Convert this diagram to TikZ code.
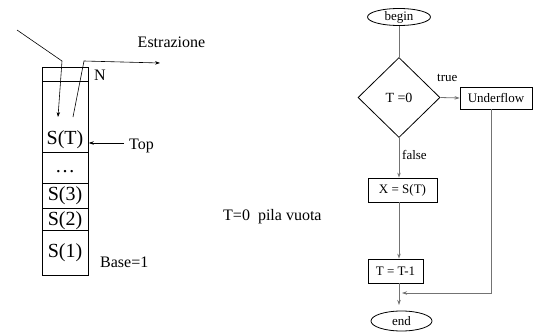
\documentclass[tikz,border=0pt]{standalone}
\usepackage{fontspec}
\setmainfont{Liberation Serif}
\usetikzlibrary{arrows.meta,shapes.geometric}
\begin{document}
\begin{tikzpicture}[x=1pt,y=-1pt,
  cell/.style={draw,line width=0.8pt,inner sep=0,anchor=north west,minimum width=46},
  big/.style={font=\fontsize{20}{22}\selectfont,inner sep=0},
  lbl/.style={font=\fontsize{16}{18}\selectfont,inner sep=0},
  small/.style={font=\fontsize{13}{15}\selectfont,inner sep=0},
  box/.style={draw,line width=0.8pt,inner sep=0,font=\fontsize{13}{15}\selectfont},
  tip/.style={-{Stealth[length=5pt,width=3.5pt]}},
  flow/.style={draw=black!55,line width=0.8pt},
  thinline/.style={line width=0.6pt}]
\useasboundingbox (0,0) rectangle (533,332);

% ---- stack ----
\node[cell,minimum height=14] (hdr) at (42,67) {};
\node[cell,minimum height=71] (cT) at (42,81) {};
\node[cell,minimum height=31] (cdots) at (42,152) {};
\node[cell,minimum height=25] (c3) at (42,183) {};
\node[cell,minimum height=22] (c2) at (42,208) {};
\node[cell,minimum height=45] (c1) at (42,230) {};

\node[big] (sT) at (65,140) {S(T)};
\node[big] (sdots) at (65,172) {\dots};
\node[big] (s3) at (65,196) {S(3)};
\node[big] (s2) at (65,221) {S(2)};
\node[big] (s1) at (65,253) {S(1)};

\node[lbl,anchor=west] (nlab) at (94,75) {N};
\node[lbl] (estr) at (171.5,42) {Estrazione};
\node[lbl,anchor=west] (toplab) at (129,146) {Top};
\node[lbl,anchor=west] (base) at (100,262.5) {Base=1};
\node[lbl,anchor=west] (empty) at (223,217) {T=0\ \ pila vuota};

% push / pop arrows
\coordinate (inA) at (17,30);
\coordinate (bendA) at (62,61);
\coordinate (pushEnd) at (58,117);
\draw[thinline,tip] (inA) -- (bendA) -- (pushEnd);
\coordinate (popStart) at (73,117);
\coordinate (bendB) at (84,61);
\coordinate (popEnd) at (160,63);
\draw[thinline,tip] (popStart) -- (bendB) -- (popEnd);
\coordinate (topFrom) at (124,143);
\draw[thinline,tip] (topFrom) -- (topFrom -| cT.east);

% ---- flowchart ----
\node[ellipse,draw,line width=0.8pt,inner sep=0,minimum width=63,minimum height=17,small] (begin) at (399,17) {begin};
\node[diamond,draw,line width=0.8pt,inner sep=0,minimum width=82,minimum height=80,font=\fontsize{14}{16}\selectfont] (test) at (399,97.5) {T =0};
\node[box,minimum width=72,minimum height=22] (under) at (496,98) {Underflow};
\node[box,minimum width=69,minimum height=24] (xbox) at (402.5,190) {X = S(T)};
\node[box,minimum width=55,minimum height=24] (tbox) at (395.5,271) {T = T-1};
\node[ellipse,draw,line width=0.8pt,inner sep=0,minimum width=61,minimum height=20,small] (endn) at (401.5,321) {end};

\node[small,anchor=west] (truelab) at (437,78) {true};
\node[small,anchor=west] (falselab) at (402,155) {false};

\draw[flow] (begin.south) -- (test.north);
\draw[flow,tip] (test.east) -- (under.west);
\draw[flow,tip] (test.south) -- (test.south |- xbox.north);
\draw[flow,tip] (test.south |- xbox.south) -- (test.south |- tbox.north);
\coordinate (merge) at (402,293);
\coordinate (drop) at (491,109);
\coordinate (endIn) at (399,305);
\draw[flow,tip] (test.south |- tbox.south) -- (endIn);
\draw[flow,tip] (drop) |- (merge);
\end{tikzpicture}
\end{document}
